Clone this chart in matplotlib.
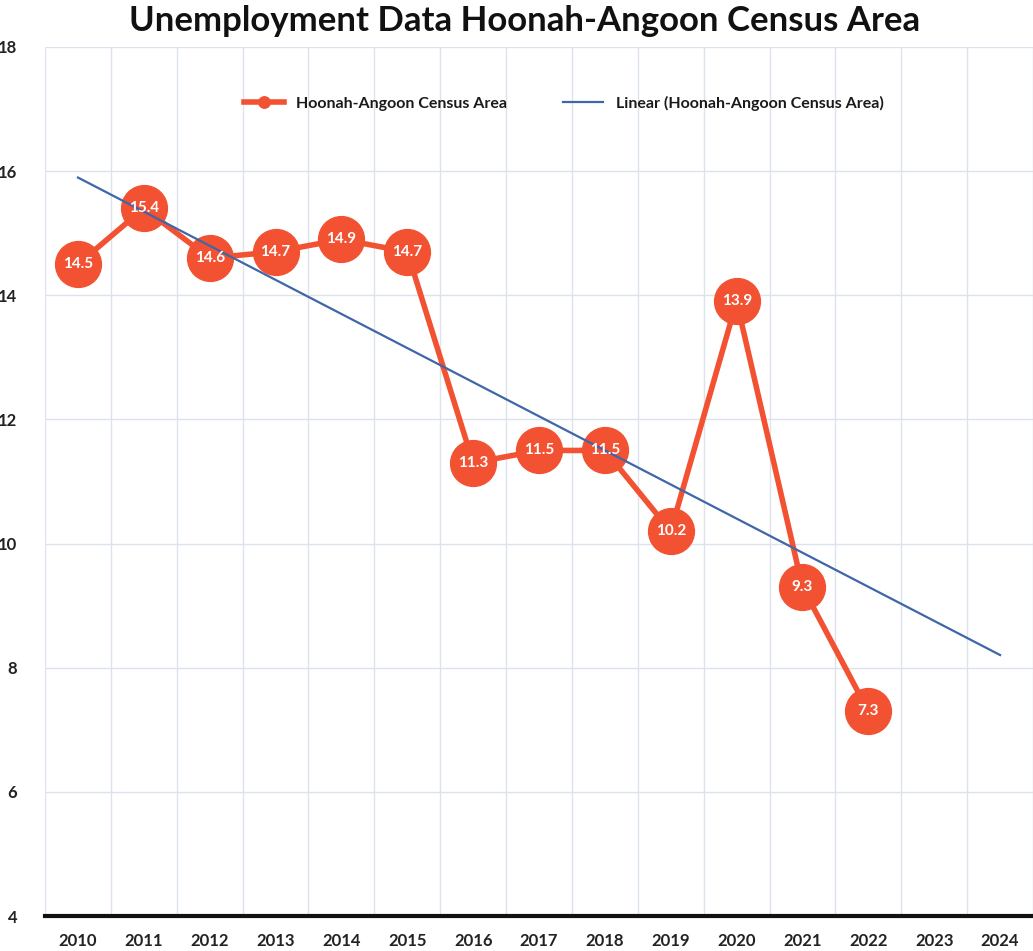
import numpy as np
import matplotlib.pyplot as plt
from matplotlib.ticker import FixedLocator

# datos
anios = [2010, 2011, 2012, 2013, 2014, 2015, 2016, 2017, 2018, 2019, 2020, 2021, 2022]
desempleo = [14.5, 15.4, 14.6, 14.7, 14.9, 14.7, 11.3, 11.5, 11.5, 10.2, 13.9, 9.3, 7.3]
anios_eje = list(range(2010, 2025))
serie = "Hoonah-Angoon Census Area"
titulo = "Unemployment Data Hoonah-Angoon Census Area"

rojo = "#F25232"
azul = "#3F66A8"
gris = "#DCE3EC"

plt.rcParams['font.family'] = ['Lato', 'DejaVu Sans']

fig = plt.figure(figsize=(10.33, 9.51), dpi=100)
ax = fig.add_axes([0.0436, 0.0368, 0.9564, 0.9138])

x = np.array([anios_eje.index(a) for a in anios])
y = np.array(desempleo)

# tendencia lineal (como la de Excel)
m, b = np.polyfit(x, y, 1)
xt = np.arange(len(anios_eje))
ax.plot(xt, m * xt + b, color=azul, lw=1.6, zorder=4,
        label=f"Linear ({serie})")

ax.plot(x, y, color=rojo, lw=4, marker='o', markersize=33,
        markeredgecolor=rojo, zorder=3, label=serie)
for xi, yi in zip(x, y):
    ax.text(xi, yi, f"{yi:g}", color='white', fontweight='bold',
            fontsize=11, ha='center', va='center', zorder=5)

ax.set_xlim(-0.5, len(anios_eje) - 0.5)
ax.set_ylim(4, 18)
ax.set_yticks(range(4, 19, 2))
ax.set_xticks(xt)
ax.set_xticklabels([str(a) for a in anios_eje])
ax.xaxis.set_minor_locator(FixedLocator(np.arange(-0.5, len(anios_eje), 1)))
ax.tick_params(axis='both', which='both', length=0, labelsize=12)
ax.tick_params(axis='x', pad=12)
ax.tick_params(axis='y', pad=20)
for t in ax.get_xticklabels() + ax.get_yticklabels():
    t.set_fontweight('bold')
    t.set_color('#222222')

ax.grid(axis='y', which='major', color=gris, lw=1.0)
ax.grid(axis='x', which='minor', color=gris, lw=1.0)
ax.set_axisbelow(True)
for s in ['top', 'right', 'left']:
    ax.spines[s].set_visible(False)
ax.spines['bottom'].set_linewidth(3)
ax.spines['bottom'].set_color('#111111')

h, l = ax.get_legend_handles_labels()
leg = ax.legend(h[::-1], l[::-1], loc='center', bbox_to_anchor=(0.525, 0.935),
                ncol=2, frameon=False, fontsize=11.5, markerscale=0.25,
                handlelength=2.5, columnspacing=3.5,
                prop={'weight': 'bold', 'size': 11.5})
for t in leg.get_texts():
    t.set_color('#1a1a1a')

fig.text(0.508, 0.978, titulo, ha='center', va='center', fontsize=25,
         fontweight='bold', color='#111111')

fig.savefig('out.png', dpi=100)
